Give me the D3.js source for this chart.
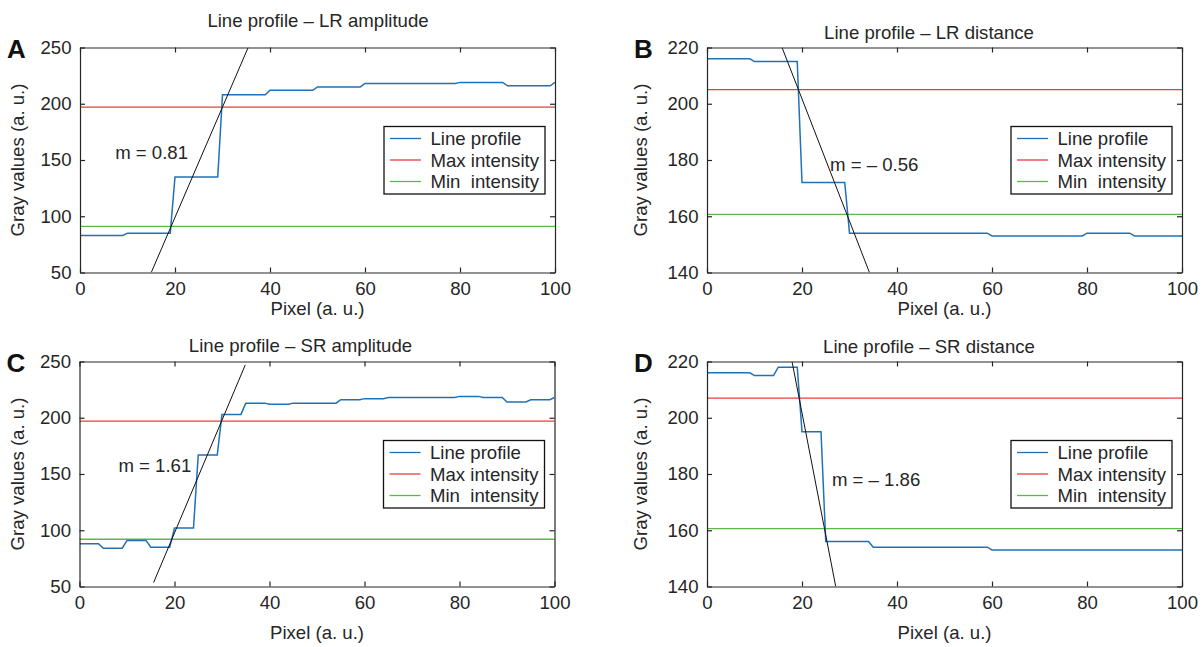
<!DOCTYPE html>
<html>
<head>
<meta charset="utf-8">
<script src="https://cdn.jsdelivr.net/npm/d3@7"></script>
<style>
    body { margin: 0; background: #fff; }
    svg text { font-family: "Liberation Sans", Arial, Helvetica, sans-serif; fill: #262626; }
    .legend-text { white-space: pre; }
</style>
</head>
<body>
<svg id="chart" width="1203" height="647"></svg>
<script>
/**
 * Four line profiles (LR / SR, amplitude / distance) with max/min intensity and fitted edge slope
 */

const X_TICKS = [0, 20, 40, 60, 80, 100];
const Y_TICKS_AMP = [50, 100, 150, 200, 250];
const Y_TICKS_DIST = [140, 160, 180, 200, 220];

const LEGEND_LABELS = ["Line profile", "Max intensity", "Min  intensity"];
const PANEL_LETTERS = ["A", "B", "C", "D"];
const TITLES = ["Line profile \u2013 LR amplitude", "Line profile \u2013 LR distance", "Line profile \u2013 SR amplitude", "Line profile \u2013 SR distance"];
const SLOPE_LABELS = ["m = 0.81", "m = \u2013 0.56", "m = 1.61", "m = \u2013 1.86"];

// line profile vertices (pixel, gray value)
const profileA_x = [0, 9, 10, 19, 20, 29, 30, 39, 40, 49, 50, 59, 60, 79, 80, 89, 90, 99, 100];
const profileA_y = [83, 83, 85, 85, 135, 135, 208, 208, 212, 212, 215, 215, 218, 218, 219, 219, 216, 216, 219];

const profileB_x = [0, 9, 10, 19, 20, 29, 30, 59, 60, 79, 80, 89, 90, 100];
const profileB_y = [216, 216, 215, 215, 172, 172, 154, 154, 153, 153, 154, 154, 153, 153];

const profileC_x = [0, 4, 5, 9, 10, 14, 15, 19, 20, 24, 25, 29, 30, 34, 35, 39, 40, 44, 45, 54, 55, 59, 60, 64, 65, 79, 80, 84, 85, 89, 90, 94, 95, 99, 100];
const profileC_y = [88, 88, 84, 84, 91, 91, 85, 85, 102, 102, 167, 167, 203, 203, 213, 213, 212, 212, 213, 213, 216, 216, 217, 217, 218, 218, 219, 219, 218, 218, 214, 214, 216, 216, 218];

const profileD_x = [0, 9, 10, 14, 15, 19, 20, 24, 25, 34, 35, 59, 60, 100];
const profileD_y = [216, 216, 215, 215, 218, 218, 195, 195, 156, 156, 154, 154, 153, 153];

const MAX_INTENSITY = [197, 205, 197, 207];
const MIN_INTENSITY = [91, 160.7, 92, 160.6];

// fitted edge line end points [x0, y0, x1, y1]
const FIT_LINES = [
    [15.0, 50, 35.4, 250],
    [15.8, 220, 34.2, 140],
    [15.6, 53.5, 34.9, 247],
    [17.9, 220, 27.1, 140]
];
// slope label anchor in data units [x, y]
const SLOPE_LABEL_POS = [[7.4, 156.7], [25.9, 178.4], [8.2, 157.8], [26.3, 178]];

const COLORS = { profile: "#1f71b8", max: "#ec3b3b", min: "#5db84a", fit: "#111", axis: "#262626" };

const W = 475, H = 225;
const FONT = 18.6;

const panels = [
    { left: 80, top: 47.5, xs: profileA_x, ys: profileA_y, yDomain: [50, 250], yTicks: Y_TICKS_AMP, title: [238, -20.5], yLabelDx: -56, xLabelDy: 42 },
    { left: 707, top: 47.5, xs: profileB_x, ys: profileB_y, yDomain: [140, 220], yTicks: Y_TICKS_DIST, title: [222, -8.5], yLabelDx: -60.5, xLabelDy: 42 },
    { left: 79.5, top: 361.5, xs: profileC_x, ys: profileC_y, yDomain: [50, 250], yTicks: Y_TICKS_AMP, title: [221, -9.5], yLabelDx: -56, xLabelDy: 52 },
    { left: 707, top: 361.5, xs: profileD_x, ys: profileD_y, yDomain: [140, 220], yTicks: Y_TICKS_DIST, title: [222, -9], yLabelDx: -60.5, xLabelDy: 52 }
];

const styleAxis = g => {
    g.attr("font-size", FONT).attr("font-family", null);
    g.selectAll("path, line").attr("stroke", COLORS.axis).attr("stroke-width", 1.2);
    g.selectAll("text").attr("fill", COLORS.axis);
};

const drawPanel = (p, i) => {
    const svg = d3.select("#chart");
    const g = svg.append("g").attr("transform", `translate(${p.left},${p.top})`);

    const x = d3.scaleLinear().domain([0, 100]).range([0, W]);
    const y = d3.scaleLinear().domain(p.yDomain).range([H, 0]);

    const clipId = `clip-${i}`;
    g.append("clipPath").attr("id", clipId)
        .append("rect").attr("width", W).attr("height", H);

    const plot = g.append("g").attr("clip-path", `url(#${clipId})`);

    // max / min intensity
    plot.append("line")
        .attr("x1", x(0)).attr("x2", x(100))
        .attr("y1", y(MAX_INTENSITY[i])).attr("y2", y(MAX_INTENSITY[i]))
        .attr("stroke", COLORS.max).attr("stroke-width", 1.3);
    plot.append("line")
        .attr("x1", x(0)).attr("x2", x(100))
        .attr("y1", y(MIN_INTENSITY[i])).attr("y2", y(MIN_INTENSITY[i]))
        .attr("stroke", COLORS.min).attr("stroke-width", 1.3);

    // profile
    const pts = p.xs.map((v, k) => [v, p.ys[k]]);
    plot.append("path")
        .datum(pts)
        .attr("fill", "none")
        .attr("stroke", COLORS.profile)
        .attr("stroke-width", 1.5)
        .attr("d", d3.line().x(d => x(d[0])).y(d => y(d[1])));

    // fitted edge
    const f = FIT_LINES[i];
    plot.append("line")
        .attr("x1", x(f[0])).attr("y1", y(f[1]))
        .attr("x2", x(f[2])).attr("y2", y(f[3]))
        .attr("stroke", COLORS.fit).attr("stroke-width", 1);

    // axes, MATLAB style: ticks inside on all four sides
    g.append("g").attr("transform", `translate(0,${H})`)
        .call(d3.axisBottom(x).tickValues(X_TICKS).tickSizeInner(-5).tickSizeOuter(0).tickPadding(9.5))
        .call(styleAxis);
    g.append("g")
        .call(d3.axisTop(x).tickValues(X_TICKS).tickSizeInner(-5).tickSizeOuter(0).tickFormat(""))
        .call(styleAxis);
    g.append("g")
        .call(d3.axisLeft(y).tickValues(p.yTicks).tickSizeInner(-5).tickSizeOuter(0).tickPadding(8.5))
        .call(styleAxis);
    g.append("g").attr("transform", `translate(${W},0)`)
        .call(d3.axisRight(y).tickValues(p.yTicks).tickSizeInner(-5).tickSizeOuter(0).tickFormat(""))
        .call(styleAxis);

    // slope label
    const sp = SLOPE_LABEL_POS[i];
    g.append("text")
        .attr("class", "legend-text")
        .attr("x", x(sp[0])).attr("y", y(sp[1]))
        .attr("dy", "0.35em")
        .attr("font-size", FONT)
        .text(SLOPE_LABELS[i]);

    // title
    g.append("text")
        .attr("x", p.title[0]).attr("y", p.title[1])
        .attr("text-anchor", "middle")
        .attr("font-size", FONT)
        .text(TITLES[i]);

    // panel letter
    g.append("text")
        .attr("x", -73).attr("y", 10)
        .attr("font-size", 26).attr("font-weight", "bold")
        .style("fill", "#111")
        .text(PANEL_LETTERS[i]);

    // axis labels
    g.append("text")
        .attr("transform", `translate(${p.yLabelDx},${H / 2}) rotate(-90)`)
        .attr("text-anchor", "middle")
        .attr("font-size", FONT)
        .text("Gray values (a. u.)");
    g.append("text")
        .attr("x", W / 2).attr("y", H + p.xLabelDy)
        .attr("text-anchor", "middle")
        .attr("font-size", FONT)
        .text("Pixel (a. u.)");

    // legend
    const lg = g.append("g").attr("transform", `translate(${W - 171},79)`);
    lg.append("rect")
        .attr("width", 161).attr("height", 67.5)
        .attr("fill", "#fff")
        .attr("stroke", "#111").attr("stroke-width", 1.3);
    const legendColors = [COLORS.profile, COLORS.max, COLORS.min];
    LEGEND_LABELS.forEach((label, k) => {
        const ly = 12 + k * 21.5;
        lg.append("line")
            .attr("x1", 6).attr("x2", 37)
            .attr("y1", ly).attr("y2", ly)
            .attr("stroke", legendColors[k]).attr("stroke-width", 1.3);
        lg.append("text")
            .attr("class", "legend-text")
            .attr("x", 46.5).attr("y", ly)
            .attr("dy", "0.35em")
            .attr("font-size", FONT)
            .text(label);
    });
};

window.addEventListener("DOMContentLoaded", () => {
    panels.forEach(drawPanel);
}, { once: true });
</script>
</body>
</html>
